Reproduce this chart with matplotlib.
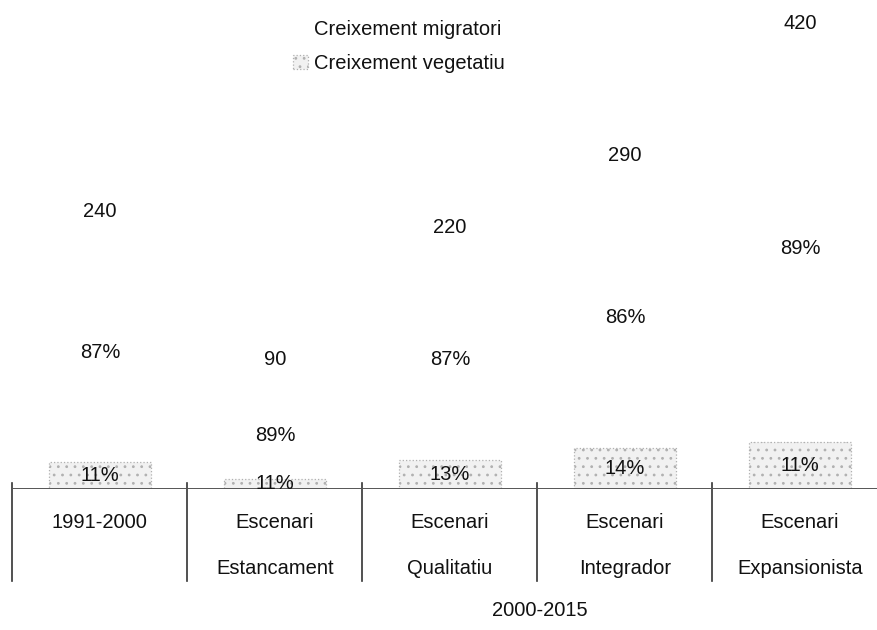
import matplotlib
matplotlib.use("Agg")
import matplotlib.pyplot as plt

plt.rcParams['font.family'] = ['Liberation Sans', 'DejaVu Sans']
plt.rcParams['hatch.color'] = '#c4c4c4'
plt.rcParams['hatch.linewidth'] = 0.8

categories = ["1991-2000", "Escenari\nEstancament", "Escenari\nQualitatiu",
              "Escenari\nIntegrador", "Escenari\nExpansionista"]
totals = [240, 90, 220, 290, 420]
pct_migratori = [87, 89, 87, 86, 89]
pct_vegetatiu = [11, 11, 13, 14, 11]

vegetatiu = [t * p / 100 for t, p in zip(totals, pct_vegetatiu)]
migratori = [t * p / 100 for t, p in zip(totals, pct_migratori)]

FS = 14.5
TXT = '#111111'
fig = plt.figure(figsize=(8.77, 6.30), dpi=100)
# baseline sits 489 px from the top, about 1 px per person
ax = fig.add_axes([0, 141 / 630, 1, 489 / 630])
ax.set_xlim(-0.571, 4.44)
ax.set_ylim(0, 479.4)
for s in ax.spines.values():
    s.set_visible(False)
ax.set_yticks([])
ax.set_xticks([])

x = list(range(len(categories)))
w = 0.58
b_veg = ax.bar(x, vegetatiu, w, color='#f1f1f1', edgecolor='#b0b0b0',
               hatch='..', linewidth=0.9, linestyle=':', zorder=2)
b_mig = ax.bar(x, migratori, w, bottom=vegetatiu, color='white',
               edgecolor='none', zorder=1)

# percentage labels and totals
for i in x:
    ax.text(i, vegetatiu[i] / 2, f"{pct_vegetatiu[i]}%", ha='center',
            va='center', fontsize=FS, color=TXT, zorder=4)
    ax.annotate(f"{pct_migratori[i]}%", (i, vegetatiu[i] + migratori[i] / 2),
                xytext=(0, 2), textcoords='offset points', ha='center',
                va='center', fontsize=FS, color=TXT)
    ax.annotate(f"{totals[i]}", (i, vegetatiu[i] + migratori[i]),
                xytext=(0, 27), textcoords='offset points', ha='center',
                va='center', fontsize=FS, color=TXT)

# category table under the baseline
ax.hlines(0, -0.5, 4.44, color='#555555', lw=1.4, zorder=3)
for i in x:
    ax.plot([i - 0.5, i - 0.5], [6, -90], color='#333333', lw=1.2,
            clip_on=False)
    first, _, second = categories[i].partition("\n")
    ax.text(i, -33, first, ha='center', va='center', fontsize=FS,
            color=TXT, clip_on=False)
    if second:
        ax.text(i, -78, second, ha='center', va='center', fontsize=FS,
                color=TXT, clip_on=False)

fig.text(540 / 877, 1 - 610 / 630, "2000-2015", ha='center', va='center',
         fontsize=FS, color=TXT)

fig.legend([b_mig, b_veg], ["Creixement migratori", "Creixement vegetatiu"],
           loc='upper left', bbox_to_anchor=(283 / 877, 1 - 10 / 630),
           frameon=False, fontsize=FS, borderpad=0, labelspacing=0.75,
           handlelength=0.75, handleheight=0.7, handletextpad=0.3,
           labelcolor=TXT)

fig.savefig("out.png", dpi=100, facecolor='white')
